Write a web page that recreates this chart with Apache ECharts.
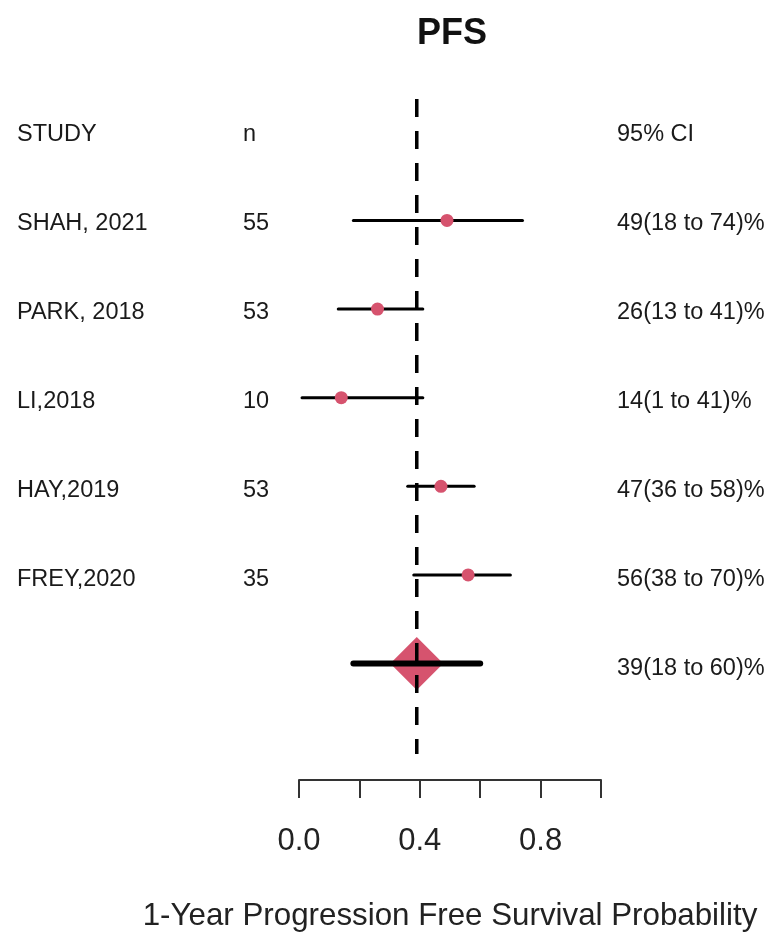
<!DOCTYPE html>
<html>
<head>
<meta charset="utf-8">
<script src="https://cdn.jsdelivr.net/npm/echarts@6/dist/echarts.min.js"></script>
<style>
  html, body { margin: 0; padding: 0; background: #fff; }
  #chart { width: 779px; height: 937px; }
</style>
</head>
<body>
<div id="chart"></div>
<script>
// ---- data ----
const headerStudy = 'STUDY';
const headerN = 'n';
const headerCI = '95% CI';
const studies = ['SHAH, 2021', 'PARK, 2018', 'LI,2018', 'HAY,2019', 'FREY,2020'];
const nValues = [55, 53, 10, 53, 35];
const estimates = [0.49, 0.26, 0.14, 0.47, 0.56];
const lowerCI = [0.18, 0.13, 0.01, 0.36, 0.38];
const upperCI = [0.74, 0.41, 0.41, 0.58, 0.70];
const summaryEst = 0.39;
const summaryLower = 0.18;
const summaryUpper = 0.60;
const xTickLabels = ['0.0', '0.4', '0.8'];
const chartTitle = 'PFS';
const xAxisTitle = '1-Year Progression Free Survival Probability';

// ---- derived ----
const pct = v => Math.round(v * 100);
const ciText = (e, l, u) => pct(e) + '(' + pct(l) + ' to ' + pct(u) + ')%';
const summaryRow = studies.length + 1;
const studyRows = studies.map((_, i) => i + 1);

const FONT = '"Liberation Sans", Arial, sans-serif';
const TEXT_COLOR = '#1a1a1a';
const DOT_COLOR = '#D6536E';

const Y_MIN = -0.37, Y_MAX = 7.02;
const GRID_TOP = 99, GRID_BOTTOM = 180;

function makeYAxis(gi) {
  return { gridIndex: gi, type: 'value', min: Y_MIN, max: Y_MAX, inverse: true, show: false };
}
function makeHiddenX(gi) {
  return { gridIndex: gi, type: 'value', min: 0, max: 1, show: false };
}

// text column series
function textColumn(gi, items) {
  return {
    type: 'custom',
    xAxisIndex: gi, yAxisIndex: gi,
    data: items.map(d => [0, d[0]]),
    renderItem: function (params, api) {
      const p = api.coord([api.value(0), api.value(1)]);
      const txt = items[params.dataIndex][1];
      return {
        type: 'text',
        x: p[0], y: p[1] + 2.5,
        style: {
          text: String(txt),
          fill: TEXT_COLOR,
          font: '23.5px ' + FONT,
          textAlign: 'left',
          textVerticalAlign: 'middle'
        }
      };
    },
    silent: true
  };
}

const studyItems = [[0, headerStudy]].concat(studies.map((s, i) => [studyRows[i], s]));
const nItems = [[0, headerN]].concat(nValues.map((v, i) => [studyRows[i], v]));
const ciItems = [[0, headerCI]]
  .concat(estimates.map((e, i) => [studyRows[i], ciText(e, lowerCI[i], upperCI[i])]))
  .concat([[summaryRow, ciText(summaryEst, summaryLower, summaryUpper)]]);

const ciData = estimates.map((e, i) => [lowerCI[i], upperCI[i], studyRows[i], 3]);
ciData.push([summaryLower, summaryUpper, summaryRow, 6]);

const option = {
  backgroundColor: '#ffffff',
  animation: false,
  title: {
    text: chartTitle,
    left: 447, top: 11,
    textAlign: 'center',
    textStyle: { fontFamily: FONT, fontWeight: 'bold', fontSize: 36, color: '#111' }
  },
  grid: [
    { left: 299, width: 302, top: GRID_TOP, bottom: GRID_BOTTOM },
    { left: 17, width: 150, top: GRID_TOP, bottom: GRID_BOTTOM },
    { left: 243, width: 40, top: GRID_TOP, bottom: GRID_BOTTOM },
    { left: 617, width: 150, top: GRID_TOP, bottom: GRID_BOTTOM }
  ],
  xAxis: [
    {
      gridIndex: 0, type: 'value', min: 0, max: 1, interval: 0.2,
      position: 'bottom', offset: 26,
      axisLine: { show: true, onZero: false, lineStyle: { color: '#333', width: 2 } },
      axisTick: { show: true, length: 18, inside: false, lineStyle: { color: '#333', width: 2 } },
      splitLine: { show: false },
      axisLabel: {
        margin: 46,
        fontFamily: FONT, fontSize: 31, color: '#222',
        showMinLabel: true, showMaxLabel: true,
        formatter: function (v) {
          const s = v.toFixed(1);
          return xTickLabels.indexOf(s) >= 0 ? s : '';
        }
      },
      name: xAxisTitle,
      nameLocation: 'middle',
      nameGap: 121,
      nameTextStyle: { fontFamily: FONT, fontSize: 31.3, color: '#222' }
    },
    makeHiddenX(1), makeHiddenX(2), makeHiddenX(3)
  ],
  yAxis: [makeYAxis(0), makeYAxis(1), makeYAxis(2), makeYAxis(3)],
  series: [
    // summary diamond
    {
      type: 'scatter',
      xAxisIndex: 0, yAxisIndex: 0,
      symbol: 'diamond', symbolSize: 53,
      itemStyle: { color: DOT_COLOR, opacity: 1 },
      data: [[summaryEst, summaryRow]],
      z: 1, silent: true
    },
    // confidence interval lines
    {
      type: 'custom',
      xAxisIndex: 0, yAxisIndex: 0,
      data: ciData,
      renderItem: function (params, api) {
        const a = api.coord([api.value(0), api.value(2)]);
        const b = api.coord([api.value(1), api.value(2)]);
        return {
          type: 'line',
          shape: { x1: a[0], y1: a[1], x2: b[0], y2: b[1] },
          style: { stroke: '#000', lineWidth: api.value(3), lineCap: 'round' }
        };
      },
      z: 2, silent: true
    },
    // reference dashed line at summary estimate
    {
      type: 'line',
      xAxisIndex: 0, yAxisIndex: 0,
      data: [[summaryEst, Y_MIN], [summaryEst, Y_MAX]],
      symbol: 'none',
      lineStyle: { color: '#000', width: 3.5, type: [18, 14] },
      z: 3, silent: true
    },
    // study point estimates
    {
      type: 'scatter',
      xAxisIndex: 0, yAxisIndex: 0,
      symbol: 'circle', symbolSize: 13,
      itemStyle: { color: DOT_COLOR, opacity: 1 },
      data: estimates.map((e, i) => [e, studyRows[i]]),
      z: 4, silent: true
    },
    textColumn(1, studyItems),
    textColumn(2, nItems),
    textColumn(3, ciItems)
  ]
};

const chart = echarts.init(document.getElementById('chart'), null, { renderer: 'canvas' });
chart.setOption(option);
</script>
</body>
</html>
